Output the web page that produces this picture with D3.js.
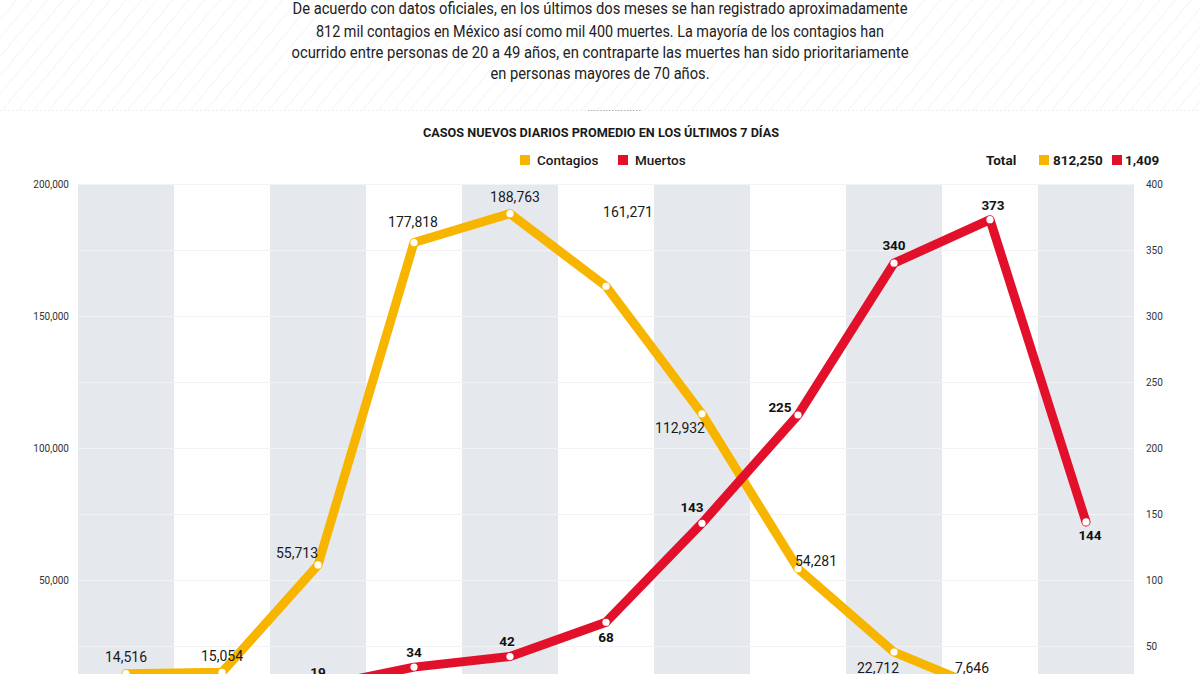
<!DOCTYPE html>
<html>
<head>
<meta charset="utf-8">
<script src="https://cdn.jsdelivr.net/npm/d3@7"></script>
<style>
  html, body { margin: 0; padding: 0; background: #fff; }
  svg { display: block; font-family: Roboto, "Open Sans", sans-serif; }
</style>
</head>
<body>
<svg id="chart" width="1200" height="674"></svg>
<script>
// ---------- DATA ----------
const categories = ["1", "2", "3", "4", "5", "6", "7", "8", "9", "10", "11"];
const contagios = [14516, 15054, 55713, 177818, 188763, 161271, 112932, 54281, 22712, 7646, 1544];
const muertos = [7, 14, 19, 34, 42, 68, 143, 225, 340, 373, 144];
const leftTicks = [50000, 100000, 150000, 200000];
const rightTicks = [50, 100, 150, 200, 250, 300, 350, 400];
const gridTicks = [25000, 50000, 75000, 100000, 125000, 150000, 175000, 200000];
const totals = { contagios: "812,250", muertos: "1,409" };
const titleText = "CASOS NUEVOS DIARIOS PROMEDIO EN LOS ÚLTIMOS 7 DÍAS";
const introLines = [
  "De acuerdo con datos oficiales, en los últimos dos meses se han registrado aproximadamente",
  "812 mil contagios en México así como mil 400 muertes. La mayoría de los contagios han",
  "ocurrido entre personas de 20 a 49 años, en contraparte las muertes han sido prioritariamente",
  "en personas mayores de 70 años."
];

// ---------- LAYOUT / STYLE ----------
const W = 1200, H = 674;
const plot = { left: 78, right: 1134, top: 184, bottom: 712 };
const COL_Y = "#f8b500", COL_R = "#e2102a", BAND = "#e5e9ee";
// label offsets (dx, dy) relative to each point
const offC = [[0,-17],[0,-16],[-21,-12],[-1,-20],[5,-17],[22,-74],[-22,14],[18,-8],[-16,16],[-18,-24],[0,-15]];
const offM = [[0,-15],[0,-15],[0,-15],[0,-15],[-3,-15],[0,15],[-10,-16],[-18,-8],[0,-18],[3,-14],[4,13]];
const introWidths = [615, 568, 617, 219];

const svg = d3.select("#chart");

// hatched header
const defs = svg.append("defs");
const pat = defs.append("pattern").attr("id", "hatch").attr("patternUnits", "userSpaceOnUse")
  .attr("width", 12).attr("height", 12).attr("patternTransform", "rotate(40)");
pat.append("line").attr("x1", 0).attr("y1", 0).attr("x2", 0).attr("y2", 12)
  .attr("stroke", "#efefef").attr("stroke-width", 1.2);
svg.append("rect").attr("x", 0).attr("y", 0).attr("width", W).attr("height", 110).attr("fill", "url(#hatch)");
svg.append("line").attr("x1", 0).attr("x2", W).attr("y1", 110.5).attr("y2", 110.5)
  .attr("stroke", "#eeeeee").attr("stroke-dasharray", "2,2");
svg.append("line").attr("x1", 588).attr("x2", 642).attr("y1", 110.5).attr("y2", 110.5)
  .attr("stroke", "#b5b5b5").attr("stroke-dasharray", "1.5,1.5");

// intro paragraph
const introY = [8, 31, 52, 73];
svg.append("g").selectAll("text").data(introLines).join("text")
  .attr("x", W / 2).attr("y", (d, i) => introY[i]).attr("dy", "0.35em")
  .attr("text-anchor", "middle").attr("font-size", 16).attr("fill", "#222")
  .attr("textLength", (d, i) => introWidths[i]).attr("lengthAdjust", "spacingAndGlyphs")
  .text(d => d);

// title
svg.append("text").attr("x", 601).attr("y", 132).attr("dy", "0.35em")
  .attr("text-anchor", "middle").attr("font-size", 13.5).attr("font-weight", 700).attr("fill", "#1a1a1a")
  .attr("textLength", 356).attr("lengthAdjust", "spacingAndGlyphs")
  .text(titleText);

// legend
const legend = [
  { label: "Contagios", color: COL_Y, x: 520 },
  { label: "Muertos", color: COL_R, x: 618 }
];
const lg = svg.append("g");
lg.selectAll("rect").data(legend).join("rect")
  .attr("x", d => d.x).attr("y", 155).attr("width", 10).attr("height", 10).attr("fill", d => d.color);
lg.selectAll("text").data(legend).join("text")
  .attr("x", d => d.x + 17).attr("y", 160).attr("dy", "0.35em")
  .attr("font-size", 13.5).attr("font-weight", 500).attr("fill", "#1a1a1a")
  .text(d => d.label);

// totals
const tg = svg.append("g");
tg.append("text").attr("x", 986).attr("y", 160).attr("dy", "0.35em")
  .attr("font-size", 13.5).attr("font-weight", 700).attr("fill", "#1a1a1a").text("Total");
tg.append("rect").attr("x", 1039).attr("y", 155).attr("width", 10).attr("height", 10).attr("fill", COL_Y);
tg.append("text").attr("x", 1053).attr("y", 160).attr("dy", "0.35em")
  .attr("font-size", 13.5).attr("font-weight", 700).attr("fill", "#1a1a1a").text(totals.contagios);
tg.append("rect").attr("x", 1112).attr("y", 155).attr("width", 10).attr("height", 10).attr("fill", COL_R);
tg.append("text").attr("x", 1125).attr("y", 160).attr("dy", "0.35em")
  .attr("font-size", 13.5).attr("font-weight", 700).attr("fill", "#1a1a1a").text(totals.muertos);

// scales
const x = d3.scaleBand().domain(categories).range([plot.left, plot.right]).paddingInner(0).paddingOuter(0);
const cx = d => x(d) + x.bandwidth() / 2;
const yL = d3.scaleLinear().domain([0, 200000]).range([plot.bottom, plot.top]);
const yR = d3.scaleLinear().domain([0, 400]).range([plot.bottom, plot.top]);

// bands
svg.append("g").selectAll("rect").data(categories.filter((d, i) => i % 2 === 0)).join("rect")
  .attr("x", d => x(d)).attr("y", plot.top).attr("width", x.bandwidth()).attr("height", H - plot.top)
  .attr("fill", BAND);

// gridlines
svg.append("g").selectAll("line").data(gridTicks).join("line")
  .attr("x1", plot.left).attr("x2", plot.right)
  .attr("y1", d => Math.round(yL(d)) + 0.5).attr("y2", d => Math.round(yL(d)) + 0.5)
  .attr("stroke", "#f2f3f5").attr("stroke-width", 1);

// axes
const axL = svg.append("g").attr("transform", `translate(${plot.left - 6},0)`)
  .call(d3.axisLeft(yL).tickValues(leftTicks).tickFormat(d3.format(",")).tickSize(0));
const axR = svg.append("g").attr("transform", `translate(${plot.right + 9},0)`)
  .call(d3.axisRight(yR).tickValues(rightTicks).tickFormat(d3.format("d")).tickSize(0));
[axL, axR].forEach(a => {
  a.select(".domain").remove();
  a.selectAll("text").attr("font-size", 10).attr("fill", "#333").attr("font-family", "Roboto, sans-serif");
});

// lines
const lineC = d3.line().x((d, i) => cx(categories[i])).y(d => yL(d));
const lineM = d3.line().x((d, i) => cx(categories[i])).y(d => yR(d));
svg.append("path").datum(contagios).attr("d", lineC).attr("fill", "none")
  .attr("stroke", COL_Y).attr("stroke-width", 9).attr("stroke-linejoin", "round").attr("stroke-linecap", "round");
svg.append("path").datum(muertos).attr("d", lineM).attr("fill", "none")
  .attr("stroke", COL_R).attr("stroke-width", 9).attr("stroke-linejoin", "round").attr("stroke-linecap", "round");

// dots
svg.append("g").selectAll("circle").data(contagios).join("circle")
  .attr("cx", (d, i) => cx(categories[i])).attr("cy", d => yL(d)).attr("r", 3.6).attr("fill", "#fff");
svg.append("g").selectAll("circle").data(muertos).join("circle")
  .attr("cx", (d, i) => cx(categories[i])).attr("cy", d => yR(d)).attr("r", 3.6).attr("fill", "#fff");

// labels
svg.append("g").selectAll("text").data(contagios).join("text")
  .attr("x", (d, i) => cx(categories[i]) + offC[i][0]).attr("y", (d, i) => yL(d) + offC[i][1])
  .attr("dy", "0.35em").attr("text-anchor", "middle").attr("font-size", 14).attr("fill", "#1a1a1a")
  .text(d => d3.format(",")(d));
svg.append("g").selectAll("text").data(muertos).join("text")
  .attr("x", (d, i) => cx(categories[i]) + offM[i][0]).attr("y", (d, i) => yR(d) + offM[i][1])
  .attr("dy", "0.35em").attr("text-anchor", "middle").attr("font-size", 13.5).attr("font-weight", 700).attr("fill", "#111")
  .text(d => d3.format(",")(d));
</script>
</body>
</html>
